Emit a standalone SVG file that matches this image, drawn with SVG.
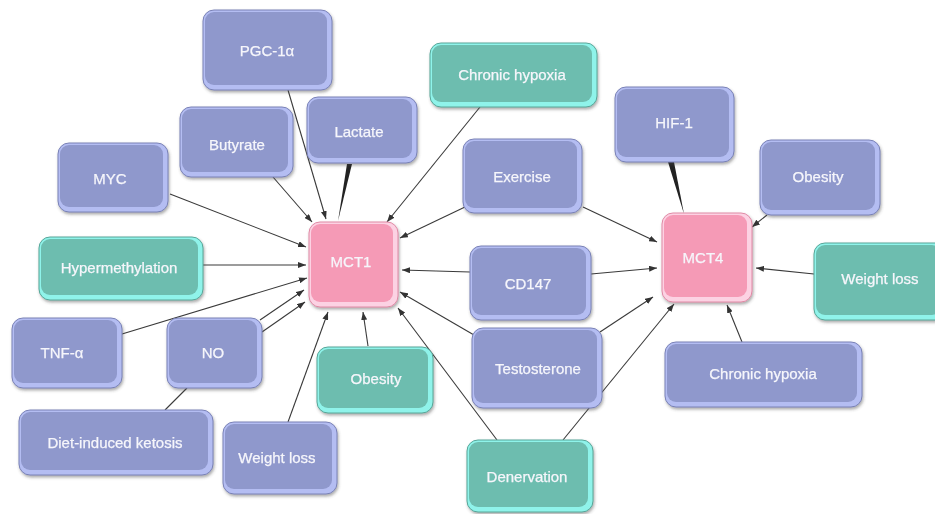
<svg xmlns="http://www.w3.org/2000/svg" width="935" height="514" viewBox="0 0 935 514">
<defs>
<style>
text{font-family:"Liberation Sans",Arial,sans-serif;font-size:15px;fill:#f6f6fb;stroke:#f6f6fb;stroke-width:0.25;text-anchor:middle}
.rim{stroke-width:1}
.p .rim{fill:#b4bdf2;stroke:#7a82b6}
.p .face{fill:#8f98cc}
.t .rim{fill:#8ff3ea;stroke:#58a698}
.t .face{fill:#6dbdaf}
.k .rim{fill:#fcd2e3;stroke:#e08aa6}
.k .face{fill:#f59ab6}
.e line{stroke:#3a3a3a;stroke-width:1.1;fill:none}
.e .a{marker-end:url(#ah)}
.w{fill:#222}
</style>
<marker id="ah" markerWidth="8" markerHeight="6" refX="8" refY="3" orient="auto" markerUnits="userSpaceOnUse">
<path d="M0,0 L8,3 L0,6 z" fill="#333"/>
</marker>
<filter id="sh" x="-10%" y="-10%" width="130%" height="140%">
<feDropShadow dx="1" dy="2" stdDeviation="1.5" flood-color="#444" flood-opacity="0.45"/>
</filter>
</defs>
<rect width="935" height="514" fill="#fff"/>

<g id="connectors" class="e">
<line class="a" x1="288" y1="90" x2="326" y2="219"/>
<line class="a" x1="273" y1="177" x2="312" y2="222"/>
<polygon class="w" points="347,164 352,164 338,221"/>
<line class="a" x1="480" y1="107" x2="387" y2="222"/>
<line class="a" x1="465" y1="207" x2="400" y2="238"/>
<line class="a" x1="170" y1="194" x2="306" y2="247"/>
<line class="a" x1="203" y1="265" x2="306" y2="265"/>
<line class="a" x1="122" y1="334" x2="307" y2="278"/>
<line class="a" x1="260" y1="320" x2="304" y2="290"/>
<line class="a" x1="262" y1="332" x2="305" y2="302"/>
<line x1="165" y1="410" x2="187" y2="388"/>
<line class="a" x1="288" y1="422" x2="328" y2="312"/>
<line class="a" x1="368" y1="346" x2="363" y2="312"/>
<line class="a" x1="470" y1="272" x2="402" y2="270"/>
<line class="a" x1="474" y1="335" x2="400" y2="292"/>
<line class="a" x1="497" y1="440" x2="398" y2="308"/>
<line class="a" x1="583" y1="207" x2="657" y2="242"/>
<line class="a" x1="591" y1="274" x2="657" y2="268"/>
<line class="a" x1="600" y1="332" x2="653" y2="297"/>
<line class="a" x1="563" y1="440" x2="674" y2="304"/>
<line class="a" x1="767" y1="215" x2="752" y2="227"/>
<line class="a" x1="814" y1="274" x2="756" y2="268"/>
<line class="a" x1="742" y1="342" x2="727" y2="305"/>
<polygon class="w" points="668,162 674,162 684,214"/>
</g>

<g id="n-pgc" class="p" filter="url(#sh)"><rect class="rim" x="203" y="10" width="129" height="80" rx="11"/><rect class="face" x="205" y="12" width="122" height="73" rx="9"/><text x="267" y="56">PGC-1α</text></g>
<g id="n-butyrate" class="p" filter="url(#sh)"><rect class="rim" x="180" y="107" width="113" height="70" rx="11"/><rect class="face" x="182" y="109" width="106" height="63" rx="9"/><text x="237" y="150">Butyrate</text></g>
<g id="n-lactate" class="p" filter="url(#sh)"><rect class="rim" x="307" y="97" width="110" height="66" rx="11"/><rect class="face" x="309" y="99" width="103" height="59" rx="9"/><text x="359" y="137">Lactate</text></g>
<g id="n-myc" class="p" filter="url(#sh)"><rect class="rim" x="58" y="143" width="110" height="69" rx="11"/><rect class="face" x="60" y="145" width="103" height="62" rx="9"/><text x="110" y="184">MYC</text></g>
<g id="n-hypermethylation" class="t" filter="url(#sh)"><rect class="rim" x="39" y="237" width="164" height="63" rx="11"/><rect class="face" x="41" y="239" width="157" height="56" rx="9"/><text x="119" y="273">Hypermethylation</text></g>
<g id="n-mct1" class="k" filter="url(#sh)"><rect class="rim" x="309" y="222" width="89" height="85" rx="11"/><rect class="face" x="311" y="224" width="82" height="78" rx="9"/><text x="351" y="267">MCT1</text></g>
<g id="n-chronic-hypoxia-1" class="t" filter="url(#sh)"><rect class="rim" x="430" y="43" width="167" height="64" rx="11"/><rect class="face" x="432" y="45" width="160" height="57" rx="9"/><text x="512" y="80">Chronic hypoxia</text></g>
<g id="n-hif1" class="p" filter="url(#sh)"><rect class="rim" x="615" y="87" width="119" height="75" rx="11"/><rect class="face" x="617" y="89" width="112" height="68" rx="9"/><text x="674" y="128">HIF-1</text></g>
<g id="n-exercise" class="p" filter="url(#sh)"><rect class="rim" x="463" y="139" width="119" height="74" rx="11"/><rect class="face" x="465" y="141" width="112" height="67" rx="9"/><text x="522" y="182">Exercise</text></g>
<g id="n-obesity-2" class="p" filter="url(#sh)"><rect class="rim" x="760" y="140" width="120" height="75" rx="11"/><rect class="face" x="762" y="142" width="113" height="68" rx="9"/><text x="818" y="182">Obesity</text></g>
<g id="n-mct4" class="k" filter="url(#sh)"><rect class="rim" x="662" y="213" width="90" height="89" rx="11"/><rect class="face" x="664" y="215" width="83" height="82" rx="9"/><text x="703" y="263">MCT4</text></g>
<g id="n-weight-loss-2" class="t" filter="url(#sh)"><rect class="rim" x="814" y="243" width="132" height="77" rx="11"/><rect class="face" x="816" y="245" width="125" height="70" rx="9"/><text x="880" y="284">Weight loss</text></g>
<g id="n-cd147" class="p" filter="url(#sh)"><rect class="rim" x="470" y="246" width="121" height="74" rx="11"/><rect class="face" x="472" y="248" width="114" height="67" rx="9"/><text x="528" y="289">CD147</text></g>
<g id="n-testosterone" class="p" filter="url(#sh)"><rect class="rim" x="472" y="328" width="130" height="80" rx="11"/><rect class="face" x="474" y="330" width="123" height="73" rx="9"/><text x="538" y="374">Testosterone</text></g>
<g id="n-chronic-hypoxia-2" class="p" filter="url(#sh)"><rect class="rim" x="665" y="342" width="197" height="65" rx="11"/><rect class="face" x="667" y="344" width="190" height="58" rx="9"/><text x="763" y="379">Chronic hypoxia</text></g>
<g id="n-denervation" class="t" filter="url(#sh)"><rect class="rim" x="467" y="440" width="126" height="72" rx="11"/><rect class="face" x="469" y="442" width="119" height="65" rx="9"/><text x="527" y="482">Denervation</text></g>
<g id="n-tnf" class="p" filter="url(#sh)"><rect class="rim" x="12" y="318" width="110" height="70" rx="11"/><rect class="face" x="14" y="320" width="103" height="63" rx="9"/><text x="62" y="358">TNF-α</text></g>
<g id="n-no" class="p" filter="url(#sh)"><rect class="rim" x="167" y="318" width="95" height="70" rx="11"/><rect class="face" x="169" y="320" width="88" height="63" rx="9"/><text x="213" y="358">NO</text></g>
<g id="n-ketosis" class="p" filter="url(#sh)"><rect class="rim" x="19" y="410" width="194" height="65" rx="11"/><rect class="face" x="21" y="412" width="187" height="58" rx="9"/><text x="115" y="448">Diet-induced ketosis</text></g>
<g id="n-weight-loss-1" class="p" filter="url(#sh)"><rect class="rim" x="223" y="422" width="114" height="72" rx="11"/><rect class="face" x="225" y="424" width="107" height="65" rx="9"/><text x="277" y="463">Weight loss</text></g>
<g id="n-obesity-1" class="t" filter="url(#sh)"><rect class="rim" x="317" y="347" width="116" height="66" rx="11"/><rect class="face" x="319" y="349" width="109" height="59" rx="9"/><text x="376" y="384">Obesity</text></g>
</svg>
